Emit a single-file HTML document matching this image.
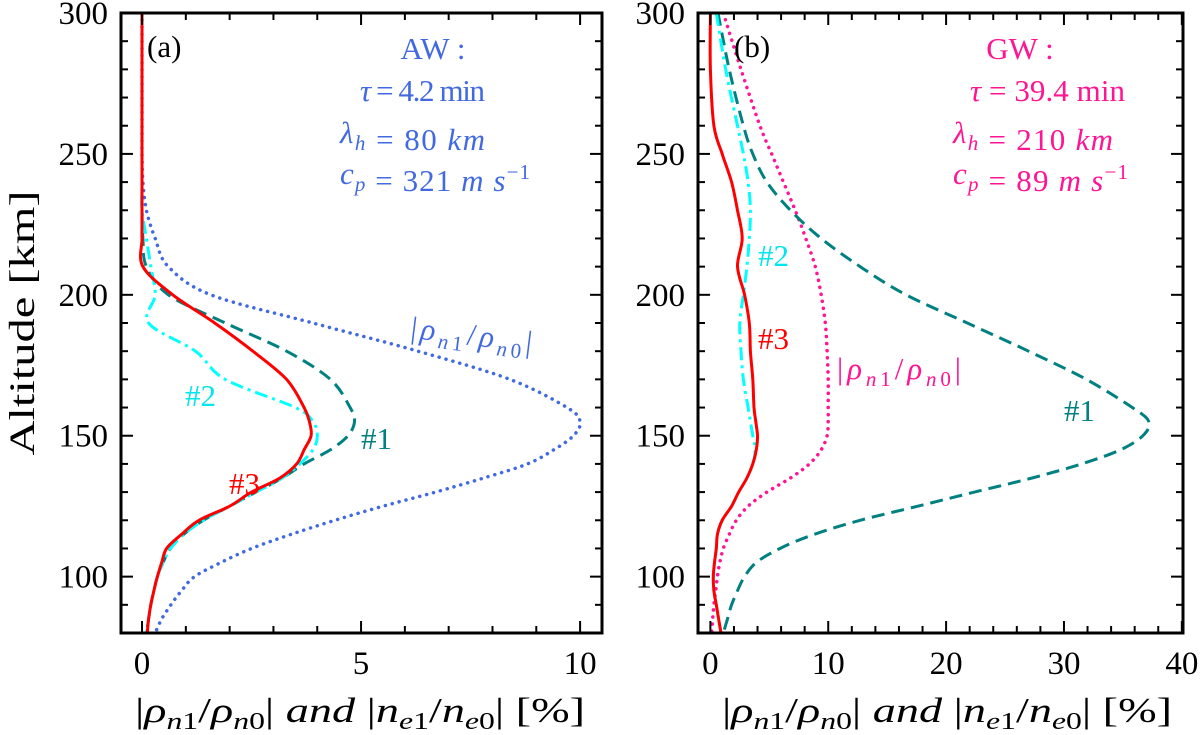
<!DOCTYPE html>
<html><head><meta charset="utf-8"><style>
body{margin:0;background:#fff;}
svg{display:block;font-family:"Liberation Serif",serif;}
</style></head><body>
<svg id="fig" width="1200" height="735" viewBox="0 0 1200 735" xmlns="http://www.w3.org/2000/svg"></svg>
<script>
const alts = [300,280,260,250,240,230,220,210,200,190,180,170,160,155,150,145,140,135,130,125,120,115,110,105,100,95,90,85,80];
// Panel (a) AW
const aDotted = [0,0,0,0,0.02,0.1,0.3,0.6,1.57,3.9,6.3,8.4,9.7,10,9.85,9.4,8.8,7.8,6.7,5.5,4.4,3.4,2.5,1.8,1.2,0.9,0.66,0.45,0.3];
const aNum1 = [0,0,0,0,0,0,0.02,0.1,0.6,1.9,3.3,4.3,4.75,4.85,4.7,4.3,3.7,3.2,2.6,2.0,1.4,0.95,0.65,0.48,0.35,0.27,0.2,0.15,0.1];
const aNum2 = [0,0,0,0,0,0,0.1,0.2,0.3,0.15,1.22,1.9,3.5,3.9,4.0,3.9,3.6,3.2,2.6,2.0,1.4,0.95,0.65,0.48,0.35,0.27,0.2,0.15,0.1];
const aNum3 = [0,0,0,0,0,0,0,0.02,0.7,1.66,2.53,3.3,3.7,3.82,3.86,3.7,3.53,3.15,2.5,2.0,1.3,0.9,0.56,0.45,0.35,0.27,0.2,0.15,0.12];
// Panel (b) GW
const bDotted = [1.1,2.6,4.2,5.2,6.2,7.2,8.1,8.9,9.4,9.75,9.9,10,10,10,9.9,9.4,8.4,6.8,4.8,3.2,2.2,1.6,1.1,0.8,0.6,0.45,0.3,0.2,0.1];
const bNum1 = [0.65,1.6,2.8,3.6,4.8,6.8,9.4,12.7,16.6,21.8,27,31.9,35.8,37.2,36.7,34.8,31.5,27.3,22.4,17.6,12.7,8.8,5.9,3.9,2.9,2.3,1.8,1.45,1.1];
const bNum2 = [0.5,1.3,2.3,2.8,3.2,3.4,3.3,3.1,2.8,2.5,2.6,2.8,3.2,3.4,3.6,3.8,3.6,3.1,2.4,1.8,1.0,0.6,0.5,0.35,0.25,0.3,0.5,0.7,0.9];
const bNum3 = [0,0,0.3,1.0,1.8,2.3,2.7,2.3,2.9,3.3,3.4,3.6,3.7,3.85,4.0,3.9,3.6,3.1,2.4,1.8,1.0,0.6,0.5,0.35,0.25,0.3,0.5,0.7,0.9];
const aTicks = [0,5,10];
const bTicks = [0,10,20,30,40];
const yTicks = [100,150,200,250,300];

const NS="http://www.w3.org/2000/svg";
const svg=document.getElementById('fig');
function el(tag,attrs,parent){const e=document.createElementNS(NS,tag);for(const k in attrs)e.setAttribute(k,attrs[k]);(parent||svg).appendChild(e);return e;}

const Y0=13,Y1=633,yMin=80,yMax=300;
function yS(a){return Y1-(a-yMin)/(yMax-yMin)*(Y1-Y0);}

function smooth(pts){
  let d='M'+pts[0][0].toFixed(1)+','+pts[0][1].toFixed(1);
  for(let i=0;i<pts.length-1;i++){
    const p0=pts[i-1]||pts[i],p1=pts[i],p2=pts[i+1],p3=pts[i+2]||p2;
    const c1=[p1[0]+(p2[0]-p0[0])/6,p1[1]+(p2[1]-p0[1])/6];
    const c2=[p2[0]-(p3[0]-p1[0])/6,p2[1]-(p3[1]-p1[1])/6];
    d+=' C'+c1[0].toFixed(1)+','+c1[1].toFixed(1)+' '+c2[0].toFixed(1)+','+c2[1].toFixed(1)+' '+p2[0].toFixed(1)+','+p2[1].toFixed(1);
  }
  return d;
}

const XT='|<tspan font-style="italic">ρ</tspan><tspan font-size="24" dy="7" font-style="italic">n</tspan><tspan font-size="24">1</tspan><tspan dy="-7">/</tspan><tspan font-style="italic">ρ</tspan><tspan font-size="24" dy="7" font-style="italic">n</tspan><tspan font-size="24">0</tspan><tspan dy="-7">| </tspan><tspan font-style="italic">and</tspan> |<tspan font-style="italic">n</tspan><tspan font-size="24" dy="7" font-style="italic">e</tspan><tspan font-size="24">1</tspan><tspan dy="-7">/</tspan><tspan font-style="italic">n</tspan><tspan font-size="24" dy="7" font-style="italic">e</tspan><tspan font-size="24">0</tspan><tspan dy="-7">| [%]</tspan>';

function panel(id,L,R,xmin,xmax,xt,minorStep,series,titleX){
  const xS=v=>L+(v-xmin)/(xmax-xmin)*(R-L);
  const g=el('g',{});
  
  
  const cp=el('clipPath',{id:'clip-'+id},g);el('rect',{x:L,y:Y0,width:R-L,height:Y1-Y0},cp);
  const cg=el('g',{'clip-path':'url(#clip-'+id+')'},g);
  series.forEach(s=>{
    const pts=alts.map((a,i)=>[xS(s.v[i]),yS(a)]);
    const p=el('path',{d:smooth(pts),fill:'none',stroke:s.c,'stroke-width':s.w||3,'stroke-dasharray':s.dash||'','stroke-linecap':s.cap||'butt','stroke-linejoin':'round'},cg);
    
    
  });
  const fr=el('rect',{x:L,y:Y0,width:R-L,height:Y1-Y0,fill:'none',stroke:'#000','stroke-width':3},g);
  
  
  for(let v=Math.ceil(xmin/minorStep)*minorStep;v<=xmax;v+=minorStep){
    const x=xS(v);const major=xt.includes(v);const len=major?12:7;
    el('line',{x1:x,y1:Y1,x2:x,y2:Y1-len,stroke:'#000','stroke-width':2},g);
    el('line',{x1:x,y1:Y0,x2:x,y2:Y0+len,stroke:'#000','stroke-width':2},g);
  }
  xt.forEach(v=>{const t=el('text',{x:xS(v),y:674,'font-size':33,'text-anchor':'middle'},g);t.textContent=v;
    
    });
  for(let a=80;a<=300;a+=10){
    const y=yS(a);const major=yTicks.includes(a);const len=major?12:7;
    el('line',{x1:L,y1:y,x2:L+len,y2:y,stroke:'#000','stroke-width':2},g);
    el('line',{x1:R,y1:y,x2:R-len,y2:y,stroke:'#000','stroke-width':2},g);
  }
  yTicks.forEach(a=>{const t=el('text',{x:L-13,y:yS(a)+11,'font-size':33,'text-anchor':'end'},g);t.textContent=a;
    
    });
  const xt2=el('text',{x:titleX,y:722,'font-size':35,textLength:450,lengthAdjust:'spacingAndGlyphs'},g);
  xt2.innerHTML=XT;
  
  
  return xS;
}
panel('panel-a',121,602,-0.48,10.5,aTicks,1,[
  {v:aDotted,c:'#4169e1',dash:'0.1 7',cap:'round',w:3.5,name:'rho-ratio-dotted'},
  {v:aNum1,c:'#008080',dash:'13 7',name:'series-1-dashed'},
  {v:aNum2,c:'#00ffff',dash:'13 5 3 5',name:'series-2-dashdot'},
  {v:aNum3,c:'#ff0000',name:'series-3-solid'}],135);
panel('panel-b',698,1183,-1.05,40.1,bTicks,2,[
  {v:bDotted,c:'#ff1493',dash:'0.1 7',cap:'round',w:3.5,name:'rho-ratio-dotted'},
  {v:bNum1,c:'#008080',dash:'13 7',name:'series-1-dashed'},
  {v:bNum2,c:'#00ffff',dash:'13 5 3 5',name:'series-2-dashdot'},
  {v:bNum3,c:'#ff0000',name:'series-3-solid'}],722);

function txt(x,y,html,attrs,name){const t=el('text',Object.assign({x:x,y:y,'font-size':31},attrs||{}));t.innerHTML=html;
  
  return t;}
txt(0,0,'Altitude [km]',{'font-size':36,'text-anchor':'middle',textLength:265,lengthAdjust:'spacingAndGlyphs',transform:'translate(34,323) rotate(-90)'},'y-axis-title');

const sub=(s)=>'<tspan font-size="21" dy="7" font-style="italic">'+s+'</tspan><tspan dy="-7"></tspan>';
const rho='|<tspan font-style="italic">ρ</tspan><tspan font-size="21" dy="7" font-style="italic">n</tspan><tspan font-size="21">1</tspan><tspan dy="-7">/</tspan><tspan font-style="italic">ρ</tspan><tspan font-size="21" dy="7" font-style="italic">n</tspan><tspan font-size="21">0</tspan><tspan dy="-7">|</tspan>';
txt(147,57,'(a)',{'font-size':31},'panel-a-label');
const B='#4169e1',P='#ff1493';
txt(433,59,'AW :',{fill:B,'text-anchor':'middle'},'aw-title');
txt(360,101,'<tspan font-style="italic">τ</tspan> = 4.2 min',{fill:B,textLength:125},'aw-period');
txt(340,143,'<tspan font-style="italic">λ</tspan>'+sub('h')+' = 80 <tspan font-style="italic">km</tspan>',{fill:B,textLength:145},'aw-wavelength');
txt(340,184,'<tspan font-style="italic">c</tspan>'+sub('p')+' = 321 <tspan font-style="italic">m s</tspan><tspan font-size="21" dy="-12">−1</tspan>',{fill:B,textLength:190},'aw-phase-speed');
txt(410,345,rho,{fill:B,'font-size':31,textLength:122,transform:'rotate(7 470 340)'},'aw-rho-label');
txt(185,406,'#2',{fill:'#00e5ee','font-size':31},'label-2');
txt(361,449,'#1',{fill:'#008080','font-size':31},'label-1');
txt(229,494,'#3',{fill:'#ff0000','font-size':31},'label-3');
txt(734,57,'(b)',{'font-size':31},'panel-b-label');
txt(1020,59,'GW :',{fill:P,'text-anchor':'middle'},'gw-title');
txt(970,101,'<tspan font-style="italic">τ</tspan> = 39.4 min',{fill:P,textLength:155},'gw-period');
txt(953,143,'<tspan font-style="italic">λ</tspan>'+sub('h')+' = 210 <tspan font-style="italic">km</tspan>',{fill:P,textLength:160},'gw-wavelength');
txt(953,184,'<tspan font-style="italic">c</tspan>'+sub('p')+' = 89 <tspan font-style="italic">m s</tspan><tspan font-size="21" dy="-12">−1</tspan>',{fill:P,textLength:175},'gw-phase-speed');
txt(758,266,'#2',{fill:'#00e5ee','font-size':31},'label-2');
txt(758,349,'#3',{fill:'#ff0000','font-size':31},'label-3');
txt(837,379,rho,{fill:P,'font-size':31,textLength:124},'gw-rho-label');
txt(1064,421,'#1',{fill:'#008080','font-size':31},'label-1');
</script>
</body></html>
